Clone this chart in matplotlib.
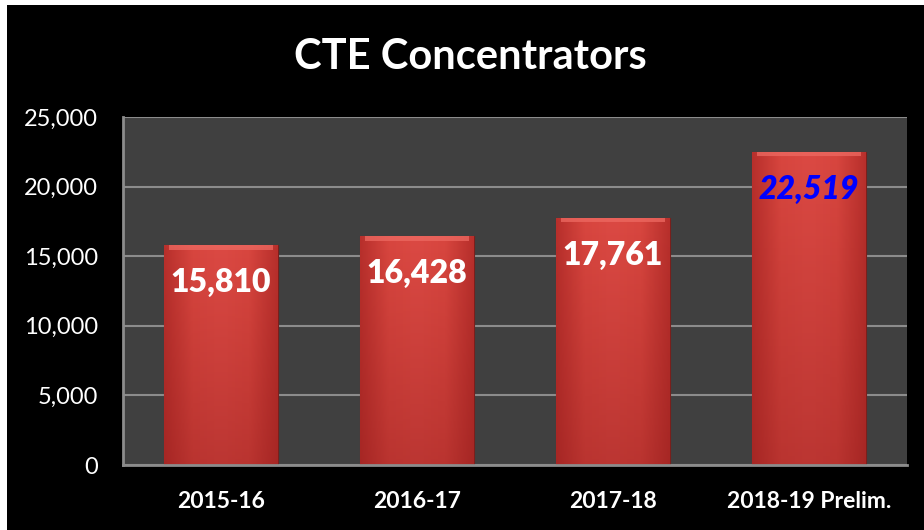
import matplotlib
matplotlib.use("Agg")
import matplotlib.pyplot as plt
import numpy as np
from matplotlib.patches import Rectangle
from matplotlib.colors import LinearSegmentedColormap

categories = ["2015-16", "2016-17", "2017-18", "2018-19 Prelim."]
values = [15810, 16428, 17761, 22519]
value_labels = ["15,810", "16,428", "17,761", "22,519"]
label_colors = ["white", "white", "white", "#0000ff"]
label_styles = ["normal", "normal", "normal", "italic"]
yticks = [0, 5000, 10000, 15000, 20000, 25000]
ytick_labels = ["0", "5,000", "10,000", "15,000", "20,000", "25,000"]
title = "CTE Concentrators"

plt.rcParams['font.family'] = ['Lato', 'DejaVu Sans']

W, H = 924, 530
fig = plt.figure(figsize=(W / 100, H / 100), dpi=100, facecolor="white")
# black background panel (thin white strips at top and left)
fig.patches.append(Rectangle((7 / W, 0), 1 - 7 / W, 1 - 5 / H, transform=fig.transFigure,
                             facecolor="black", edgecolor="none", zorder=-10))

ax = fig.add_axes([123 / W, 1 - 465 / H, (907 - 123) / W, (465 - 117) / H])
ax.set_facecolor("#404040")

x = np.arange(len(categories))
bars = ax.bar(x, values, width=0.58, color="#d4433e", edgecolor="#7a1f1c",
              linewidth=0.8, zorder=3)

# gradient / bevel shading inside each bar
cmap_h = LinearSegmentedColormap.from_list("h", ["#b8302c", "#d8463f", "#dc4a44", "#d8463f", "#b8302c"])
cmap_v = LinearSegmentedColormap.from_list("v", [(0.55, 0.1, 0.1, 0.4), (0.55, 0.1, 0.1, 0.0)])
for b in bars:
    x0, w, h = b.get_x(), b.get_width(), b.get_height()
    grad = np.linspace(0, 1, 200).reshape(1, -1)
    im = ax.imshow(grad, extent=[x0, x0 + w, 0, h], aspect="auto", cmap=cmap_h,
                   zorder=3.5, origin="lower")
    im.set_clip_path(b)
    # top bevel highlight
    bev = 330
    ax.add_patch(Rectangle((x0 + w * 0.04, h - bev), w * 0.92, bev, facecolor="#ee6a62",
                           edgecolor="none", zorder=3.6, alpha=0.75))
    gv = np.linspace(0, 1, 100).reshape(-1, 1)
    im2 = ax.imshow(gv, extent=[x0, x0 + w, 0, h], aspect="auto", cmap=cmap_v,
                    zorder=3.7, origin="lower")
    im2.set_clip_path(b)

ax.set_xlim(-0.5, len(categories) - 0.5)
ax.set_ylim(0, 25000)
ax.set_yticks(yticks)
ax.set_yticklabels(ytick_labels, color="white", fontsize=17)
ax.set_xticks(x)
ax.set_xticklabels(categories, color="white", fontsize=16.5, fontweight="bold")
ax.tick_params(axis="y", length=0, pad=18)
ax.tick_params(axis="x", length=0, pad=19)
ax.grid(axis="y", color="#8c8c8c", linewidth=1.5, zorder=1)
ax.set_axisbelow(True)
for s in ["top", "right"]:
    ax.spines[s].set_visible(False)
for s in ["left", "bottom"]:
    ax.spines[s].set_color("#8c8c8c")
    ax.spines[s].set_linewidth(2)
    ax.spines[s].set_zorder(5)

for xi, v, lab, c, st in zip(x, values, value_labels, label_colors, label_styles):
    ax.annotate(lab, (xi, v), xytext=(0, -27), textcoords="offset points",
                ha="center", va="center", color=c, fontsize=23, fontweight="heavy",
                fontstyle=st, zorder=6)

fig.text(470 / W, 1 - 57 / H, title, color="white", fontsize=30, fontweight="bold",
         ha="center", va="center")

fig.savefig("out.png", dpi=100, facecolor="white")
